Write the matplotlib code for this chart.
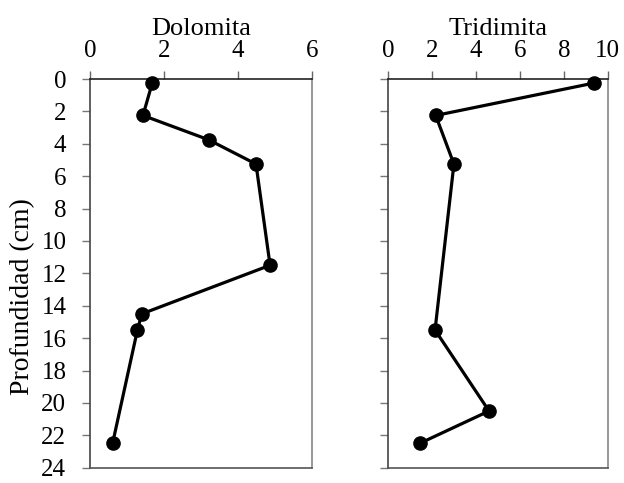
import matplotlib
matplotlib.use("Agg")
import matplotlib.pyplot as plt

plt.rcParams['font.family'] = 'serif'
plt.rcParams['font.serif'] = ['Liberation Serif', 'TeX Gyre Termes', 'DejaVu Serif']

dolomita_depth = [0.25, 2.25, 3.75, 5.25, 11.5, 14.5, 15.5, 22.5]
dolomita_val = [1.68, 1.43, 3.2, 4.48, 4.86, 1.40, 1.28, 0.61]

tridimita_depth = [0.25, 2.25, 5.25, 15.5, 20.5, 22.5]
tridimita_val = [9.37, 2.16, 2.99, 2.13, 4.59, 1.43]

y_ticks = list(range(0, 25, 2))
dol_xticks = [0, 2, 4, 6]
tri_xticks = [0, 2, 4, 6, 8, 10]

fig = plt.figure(figsize=(6.24, 4.83), dpi=100)
ax1 = fig.add_axes([0.1442, 0.0317, 0.3563, 0.8047])
ax2 = fig.add_axes([0.6223, 0.0317, 0.3516, 0.8047])

fs = 18
for ax, xv, dv, xt, xmax, title in [
    (ax1, dolomita_val, dolomita_depth, dol_xticks, 6, 'Dolomita'),
    (ax2, tridimita_val, tridimita_depth, tri_xticks, 10, 'Tridimita'),
]:
    ax.plot(xv, dv, color='black', lw=2.3, marker='o', markersize=9.5, zorder=3, clip_on=False)
    ax.set_xlim(0, xmax)
    ax.set_ylim(24, 0)
    ax.set_xticks(xt)
    ax.set_yticks(y_ticks)
    ax.xaxis.tick_top()
    ax.tick_params(axis='x', direction='out', length=6, width=1, color='#666666',
                   labelsize=fs, pad=6, top=True, bottom=False)
    ax.tick_params(axis='y', direction='out', length=6, width=1, color='#777777',
                   labelsize=fs, pad=11)
    ax.spines['top'].set_color('#222222')
    ax.spines['left'].set_color('#444444')
    ax.spines['right'].set_color('#888888')
    ax.spines['bottom'].set_color('#555555')
    for s in ax.spines.values():
        s.set_linewidth(1.2)
    ax.set_title(title, fontsize=19, pad=2)

ax2.tick_params(axis='y', labelleft=False)
ax1.set_ylabel('Profundidad (cm)', fontsize=20)
ax1.yaxis.set_label_coords(-0.245, 0.44)

fig.savefig('out.png', dpi=100)
